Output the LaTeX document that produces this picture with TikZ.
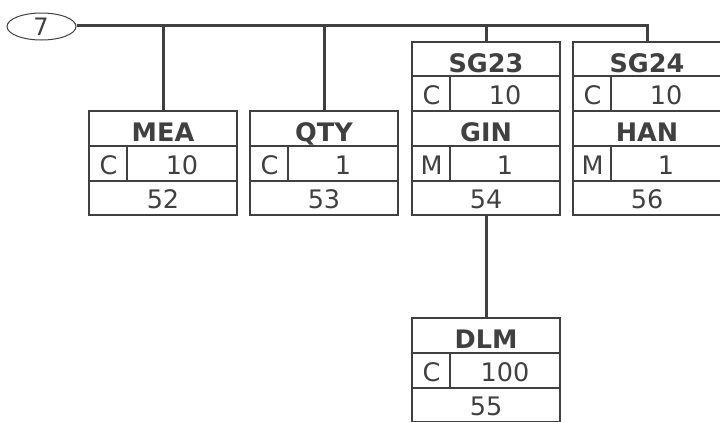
\documentclass[tikz,border=0pt]{standalone}
\usepackage{fontspec}
\setmainfont{DejaVu Sans}
\usetikzlibrary{shapes.geometric}
\definecolor{ink}{HTML}{404040}
% box with 3 rows: name, left, top, title, status, rep, number
\newcommand\segbox[7]{%
  \draw[boxl] (#2,#3) rectangle ({#2+148},{#3+104});
  \draw[sepl] (#2,{#3+35}) -- ({#2+148},{#3+35});
  \draw[sepl] (#2,{#3+70}) -- ({#2+148},{#3+70});
  \draw[sepl] ({#2+38},{#3+35}) -- ({#2+38},{#3+70});
  \node[ttl] (#1t) at ({#2+74},{#3+30.5}) {#4};
  \node[txt] (#1s) at ({#2+19.5},{#3+63}) {#5};
  \node[txt] (#1r) at ({#2+93},{#3+63}) {#6};
  \node[txt] (#1n) at ({#2+74},{#3+97.5}) {#7};
  \coordinate (#1top) at ({#2+74},#3);
  \coordinate (#1bot) at ({#2+74},{#3+104});
}
\tikzset{
  boxl/.style={draw=ink,line width=2.4pt},
  sepl/.style={draw=ink,line width=2pt},
  conn/.style={draw=ink,line width=3pt},
  txt/.style={text=ink,inner sep=0pt,anchor=base,font=\fontsize{25.5}{26}\selectfont},
  ttl/.style={txt,font=\bfseries\fontsize{25.5}{26}\selectfont}
}
\begin{document}
\begin{tikzpicture}[x=1pt,y=-1pt]
\useasboundingbox (0,0) rectangle (720,421);
\node[draw=ink,line width=1pt,ellipse,minimum width=69pt,minimum height=27pt,inner sep=0pt] (e7) at (41.5,26.5) {};
\node[txt,font=\fontsize{24}{24}\selectfont] (e7t) at (41,35.5) {7};
\coordinate (jend) at (647,25);
\segbox{mea}{89}{111}{MEA}{C}{10}{52}
\segbox{qty}{250}{111}{QTY}{C}{1}{53}
% SG23 group
\draw[boxl] (412,42) rectangle (560,215);
\draw[sepl] (412,76) -- (560,76);
\draw[sepl] (450,76) -- (450,111);
\segbox{gin}{412}{111}{GIN}{M}{1}{54}
\node[ttl] (sg23) at (486,72) {SG23};
\node[txt] (sg23s) at (431.5,104.5) {C};
\node[txt] (sg23r) at (505,104.5) {10};
\coordinate (sg23top) at (486,42);
% SG24 group
\draw[boxl] (573,42) rectangle (721,215);
\draw[sepl] (573,76) -- (721,76);
\draw[sepl] (611,76) -- (611,111);
\segbox{han}{573}{111}{HAN}{M}{1}{56}
\node[ttl] (sg24) at (647,72) {SG24};
\node[txt] (sg24s) at (592.5,104.5) {C};
\node[txt] (sg24r) at (666,104.5) {10};
\coordinate (sg24top) at (647,42);
\segbox{dlm}{412}{318}{DLM}{C}{100}{55}
% connectors
\draw[conn] (e7.east |- jend) -- (jend) -- (sg24top);
\draw[conn] (meatop) -- (meatop |- jend);
\draw[conn] (qtytop) -- (qtytop |- jend);
\draw[conn] (sg23top) -- (sg23top |- jend);
\draw[conn] (ginbot) -- (dlmtop);
\end{tikzpicture}
\end{document}
